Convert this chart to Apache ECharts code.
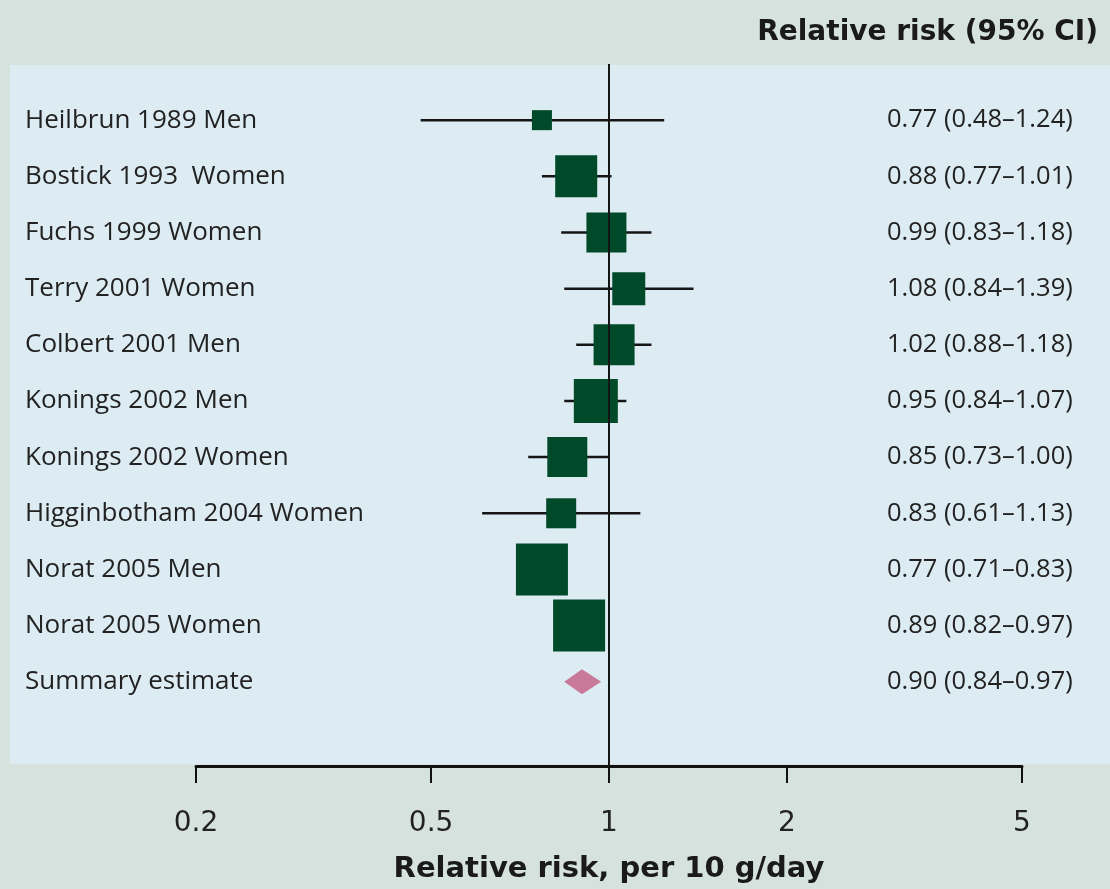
<!DOCTYPE html>
<html><head><meta charset="utf-8">
<script src="https://cdn.jsdelivr.net/npm/echarts@6/dist/echarts.min.js"></script>
<style>html,body{margin:0;padding:0;background:#d6e2dd}#c{width:1110px;height:889px}</style>
</head><body><div id="c"></div>
<script>
const studies = ['Heilbrun 1989 Men','Bostick 1993  Women','Fuchs 1999 Women','Terry 2001 Women','Colbert 2001 Men','Konings 2002 Men','Konings 2002 Women','Higginbotham 2004 Women','Norat 2005 Men','Norat 2005 Women','Summary estimate'];
const rr    = [0.77,0.88,0.99,1.08,1.02,0.95,0.85,0.83,0.77,0.89,0.90];
const lower = [0.48,0.77,0.83,0.84,0.88,0.84,0.73,0.61,0.71,0.82,0.84];
const upper = [1.24,1.01,1.18,1.39,1.18,1.07,1.00,1.13,0.83,0.97,0.97];
const weight = [20,42,40,33,41,44,40,30,52,52];
const xTicks = [0.2,0.5,1,2,5];
const summaryIndex = 10;

const FONT = 'Open Sans';
const BOLD = 'DejaVu Sans';
const fmt = v => v.toFixed(2);
const ciText = studies.map((s,i)=> `${fmt(rr[i])} (${fmt(lower[i])}\u2013${fmt(upper[i])})`);

const chart = echarts.init(document.getElementById('c'));
const studyIdx = weight.map((w,i)=>i);

chart.setOption({
  backgroundColor: '#d6e2dd',
  animation: false,
  textStyle: {fontFamily: FONT},
  title: {text: 'Relative risk (95% CI)', right: 7, top: 14,
    textStyle: {fontFamily: BOLD, fontWeight: 'bold', fontSize: 28, color: '#1a1a1a'}},
  graphic: [{type:'rect', shape:{x:10, y:65, width:1100, height:699}, style:{fill:'#dcecf2'}, z:-10, silent:true}],
  grid: {left: 196, right: 88, top: 64, bottom: 123},
  xAxis: {
    type: 'log', logBase: 10, min: 0.2, max: 5,
    axisLine: {show: true, onZero: false, lineStyle: {color: '#111', width: 3}},
    axisTick: {show: true, customValues: xTicks, length: 17, lineStyle: {color: '#111', width: 2}},
    axisLabel: {customValues: xTicks, fontSize: 28, color: '#222', margin: 44, fontFamily: 'DejaVu Sans',
      formatter: v => String(v)},
    splitLine: {show: false},
    name: 'Relative risk, per 10 g/day', nameLocation: 'middle', nameGap: 89,
    nameTextStyle: {fontFamily: BOLD, fontWeight: 'bold', fontSize: 29, color: '#1a1a1a'}
  },
  yAxis: [{
    type: 'value', inverse: true, min: -1, max: 11.5, interval: 1,
    axisLine: {show: false}, axisTick: {show: false}, splitLine: {show: false},
    axisLabel: {align: 'left', margin: 171, fontSize: 26, color: '#222', fontFamily: FONT,
      formatter: v => { const k = Math.round(v); return (Math.abs(v-k) < 1e-6 && studies[k]) ? studies[k] : ''; }}
  },{
    type: 'value', inverse: true, min: -1, max: 11.5, interval: 1, position: 'right',
    axisLine: {show: false}, axisTick: {show: false}, splitLine: {show: false},
    axisLabel: {align: 'left', margin: -135, fontSize: 25.5, color: '#222', fontFamily: FONT,
      formatter: v => { const k = Math.round(v); return (Math.abs(v-k) < 1e-6 && ciText[k]) ? ciText[k] : ''; }}
  }],
  series: [
    {
      type: 'custom', name: 'ci', z: 1,
      data: studyIdx.map(i => [lower[i], upper[i], i]),
      renderItem: (params, api) => {
        const a = api.coord([api.value(0), api.value(2)]);
        const b = api.coord([api.value(1), api.value(2)]);
        return {type:'line', shape:{x1:a[0], y1:a[1], x2:b[0], y2:b[1]}, style:{stroke:'#151515', lineWidth:2.5}};
      },
      markLine: {silent: true, symbol: 'none', label: {show: false},
        lineStyle: {color: '#151515', width: 2, type: 'solid'},
        data: [{xAxis: 1}]}
    },
    {
      type: 'scatter', name: 'studies', z: 3,
      symbol: 'rect',
      data: studyIdx.map(i => [rr[i], i, weight[i]]),
      symbolSize: v => v[2],
      itemStyle: {color: '#004a2a', opacity: 1}
    },
    {
      type: 'custom', name: 'summary', z: 3,
      data: [[lower[summaryIndex], rr[summaryIndex], upper[summaryIndex], summaryIndex]],
      renderItem: (params, api) => {
        const y = api.value(3);
        const l = api.coord([api.value(0), y]);
        const c = api.coord([api.value(1), y]);
        const r = api.coord([api.value(2), y]);
        const h = 12.5;
        return {type:'polygon', shape:{points:[[l[0],l[1]],[c[0],c[1]-h],[r[0],r[1]],[c[0],c[1]+h]]}, style:{fill:'#c97a9a'}};
      }
    }
  ]
});
</script></body></html>
